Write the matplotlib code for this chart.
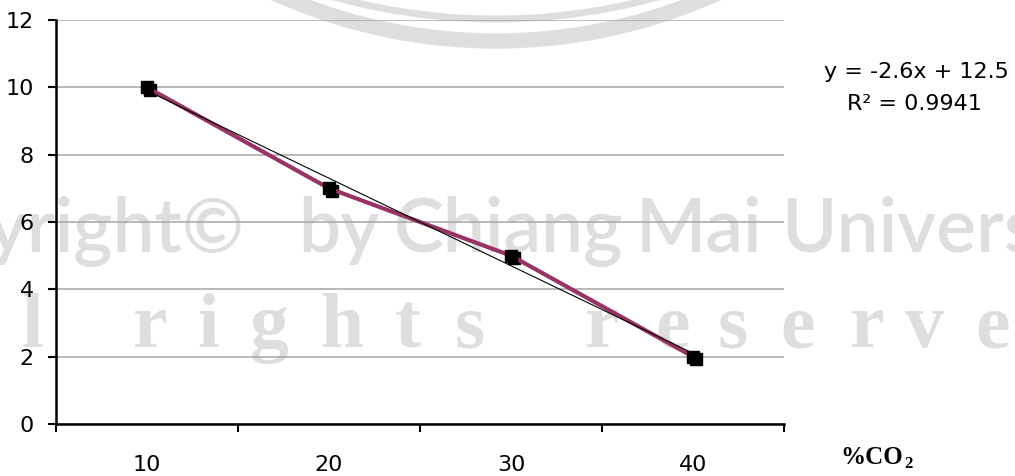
import numpy as np
import matplotlib
matplotlib.use("Agg")
import matplotlib.pyplot as plt
from matplotlib import patches, transforms

# Data
co2_levels = ["10", "20", "30", "40"]
response = [10, 7, 5, 2]
y_ticks = [0, 2, 4, 6, 8, 10, 12]

W, H = 1015, 476
fig = plt.figure(figsize=(W / 100, H / 100), dpi=100)

# Background layer (pixel coordinates) for the faint watermark
bg = fig.add_axes([0, 0, 1, 1], zorder=-1)
bg.set_xlim(0, W)
bg.set_ylim(H, 0)
bg.axis("off")
wm = "#dedede"
bg.add_patch(patches.Circle((496, 41 - 538), 538, fill=False, lw=11, ec=wm))
bg.add_patch(patches.Circle((496, 19 - 609), 609, fill=False, lw=5, ec=wm))
bg.text(245, 252, "Copyright\u00a9", color=wm, fontsize=54, family="Lato",
        fontweight="semibold", ha="right", va="baseline")
for word, x in [("by", 298), ("Chiang", 394), ("Mai", 636), ("University", 781)]:
    bg.text(x, 252, word, color=wm, fontsize=54, family="Lato",
            fontweight="semibold", ha="left", va="baseline")
for ch, x in [("l", 22), ("r", 133), ("i", 197), ("g", 250), ("h", 320), ("t", 395), ("s", 455),
              ("r", 585), ("e", 655), ("s", 718), ("e", 780), ("r", 850), ("v", 905), ("e", 975)]:
    bg.text(x, 347, ch, color=wm, fontsize=56, family="Liberation Serif",
            fontweight="bold", ha="left", va="baseline")

# Main chart
ax = fig.add_axes([56 / W, (H - 424) / H, (784 - 56) / W, (424 - 20) / H], zorder=1)
ax.set_facecolor("none")

x = np.arange(1, len(co2_levels) + 1)
ax.set_xlim(0.5, len(co2_levels) + 0.5)
ax.set_ylim(0, 12)

ax.set_yticks(y_ticks)
ax.set_yticklabels([str(t) for t in y_ticks])
ax.grid(axis="y", color="#a6a6a6", lw=1.1)
ax.set_axisbelow(True)

# Category axis: tick marks between categories, labels at category centres
ax.set_xticks(np.arange(0.5, len(co2_levels) + 1, 1.0))
ax.set_xticklabels([])
ax.set_xticks(x, minor=True)
ax.set_xticklabels(co2_levels, minor=True)
ax.tick_params(axis="x", which="major", direction="out", length=6, width=1.5)
ax.tick_params(axis="x", which="minor", length=0, pad=22, labelsize=16)
ax.tick_params(axis="y", direction="out", length=6, width=1.5, pad=10, labelsize=16)

for side in ("top", "right"):
    ax.spines[side].set_visible(False)
for side in ("left", "bottom"):
    ax.spines[side].set_linewidth(1.8)

# Series with shadowed square markers
shadow = transforms.offset_copy(ax.transData, fig=fig, x=2.5, y=-2.5, units="dots")
ax.plot(x, response, ls="none", marker="s", ms=8.5, color="black", transform=shadow, zorder=3)
ax.plot(x, response, color="#993366", lw=3, marker="s", ms=8.5,
        mfc="black", mec="black", zorder=4)

# Linear trendline
slope, intercept = np.polyfit(x, response, 1)
fit = slope * x + intercept
r2 = 1 - np.sum((np.array(response) - fit) ** 2) / np.sum((np.array(response) - np.mean(response)) ** 2)
ax.plot(x, fit, color="black", lw=0.8, zorder=5)

fig.text(916 / W, 1 - 72 / H, f"y = {slope:.1f}x + {intercept:.1f}", ha="center", va="center", fontsize=16)
fig.text(914 / W, 1 - 104 / H, f"R\u00b2 = {r2:.4f}", ha="center", va="center", fontsize=16)

fig.text(840 / W, 1 - 457 / H, "%CO", ha="left", va="center", fontsize=18,
         family="Liberation Serif", fontweight="bold")
fig.text(904 / W, 1 - 464 / H, "2", ha="left", va="center", fontsize=12,
         family="Liberation Serif", fontweight="bold")

fig.savefig("out.png", dpi=100)
